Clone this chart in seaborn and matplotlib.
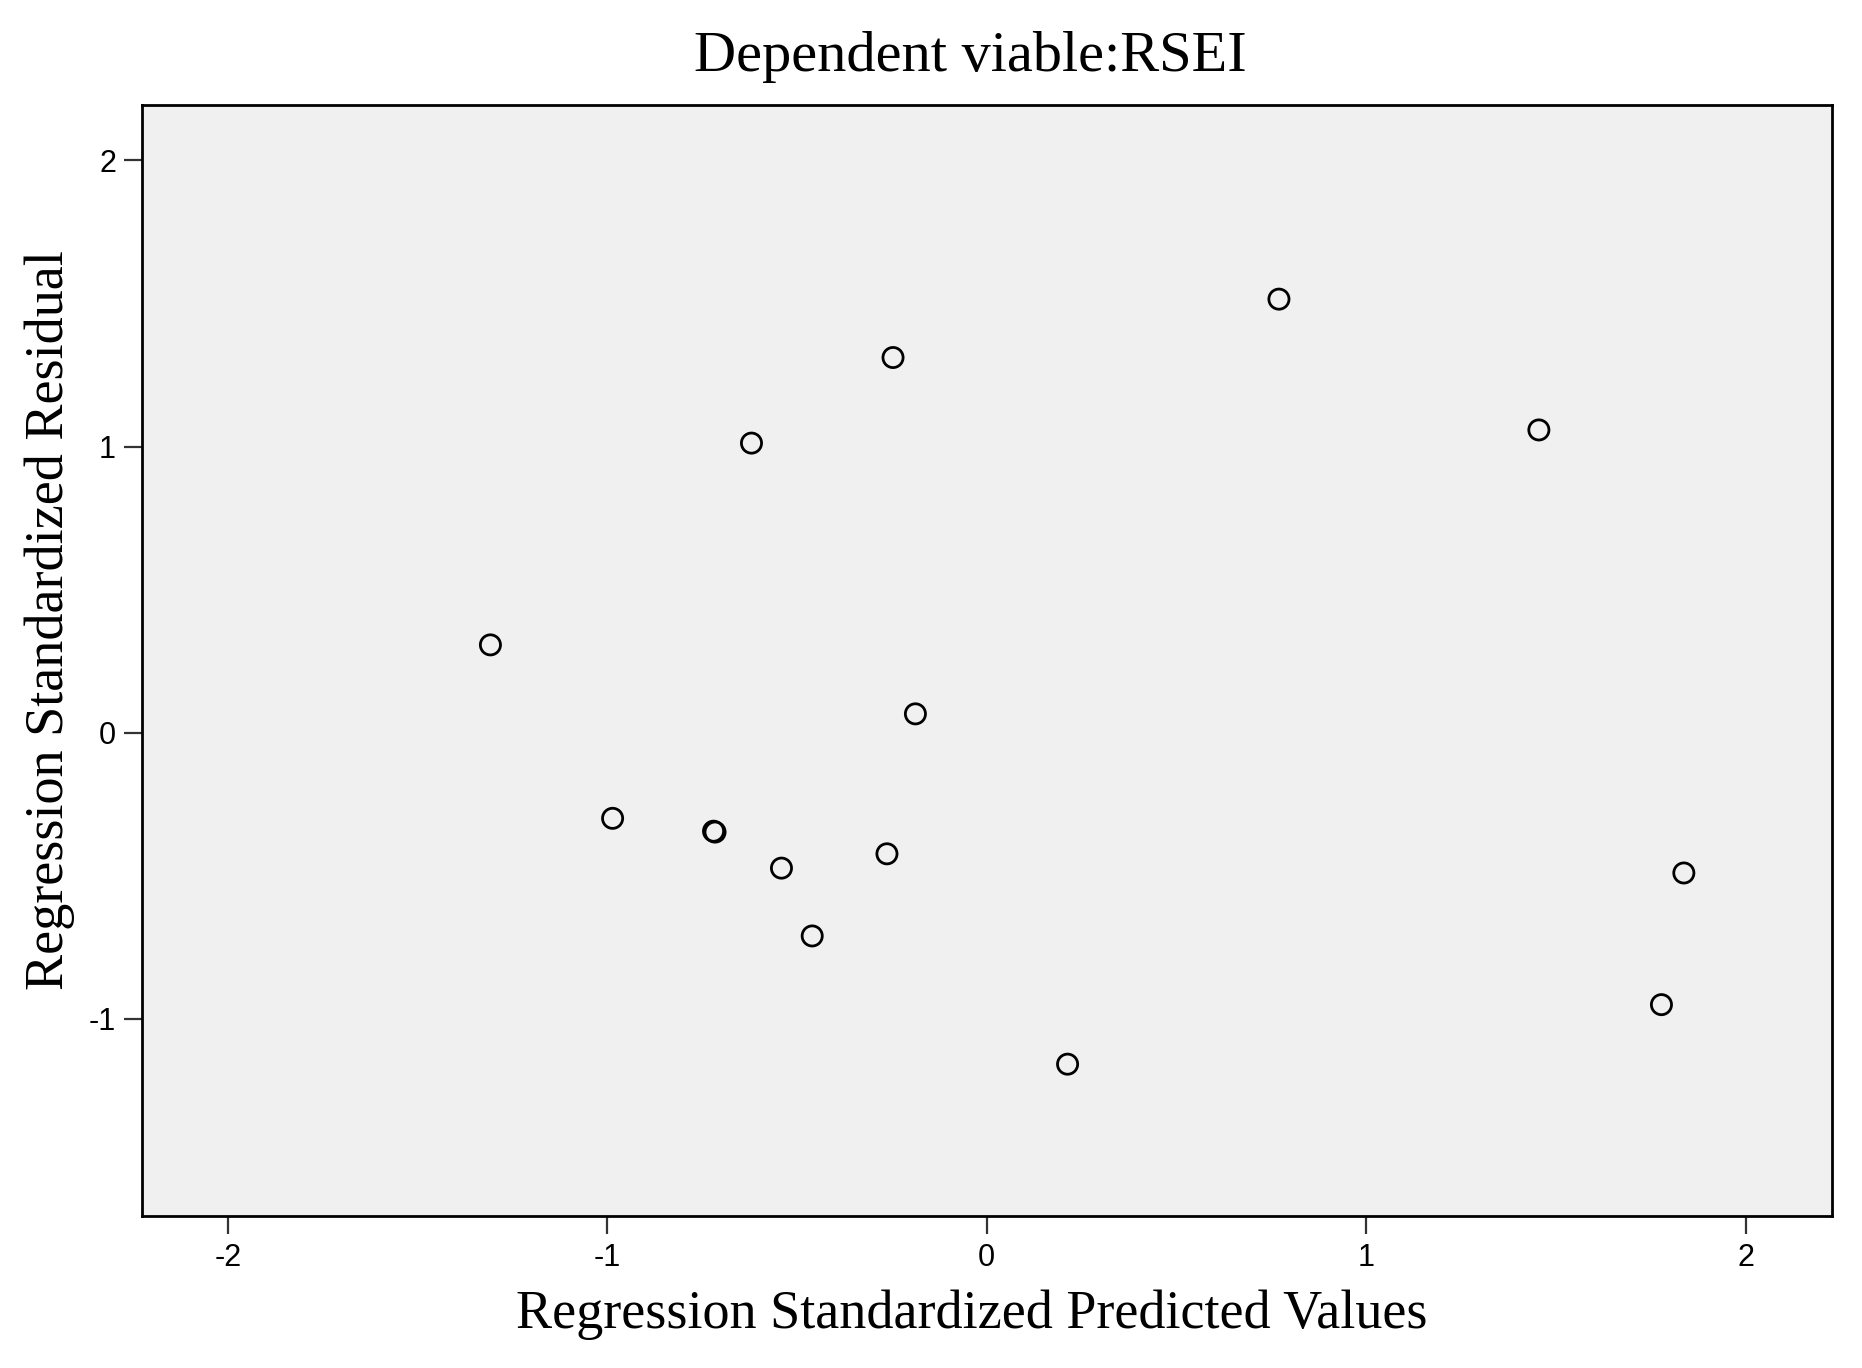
import matplotlib
matplotlib.use("Agg")
import matplotlib.pyplot as plt
import seaborn as sns
import pandas as pd

# Data
predicted = [-1.308, -0.986, -0.720, -0.716, -0.620, -0.541, -0.460, -0.263,
             -0.247, -0.188, 0.213, 0.770, 1.455, 1.778, 1.837]
residual = [0.307, -0.299, -0.344, -0.347, 1.012, -0.473, -0.710, -0.423,
            1.311, 0.066, -1.158, 1.515, 1.058, -0.950, -0.490]
x_ticks = [-2, -1, 0, 1, 2]
y_ticks = [-1, 0, 1, 2]

title_text = "Dependent viable:RSEI"
x_label = "Regression Standardized Predicted Values"
y_label = "Regression Standardized Residual"

df = pd.DataFrame({"pred": predicted, "resid": residual})

sns.set_style("white")
plt.rcParams["text.color"] = "black"
plt.rcParams["axes.labelcolor"] = "black"
plt.rcParams["xtick.color"] = "black"
plt.rcParams["ytick.color"] = "black"

fig = plt.figure(figsize=(18.62, 13.68), dpi=100)
ax = fig.add_axes([0.0765, 0.111, 0.9075, 0.8126])
ax.set_facecolor("#f0f0f0")

sns.scatterplot(data=df, x="pred", y="resid", ax=ax, marker="o", s=210,
                facecolor="none", edgecolor="black", linewidth=2.0, zorder=3)

ax.set_xlim(-2.225, 2.228)
ax.set_ylim(-1.689, 2.195)
ax.set_xticks(x_ticks)
ax.set_yticks(y_ticks)
ax.set_xticklabels([str(t) for t in x_ticks], family="Liberation Sans", fontsize=22,
                   color="black")
ax.set_yticklabels([str(t) for t in y_ticks], family="Liberation Sans", fontsize=22,
                   color="black")
ax.tick_params(axis="both", direction="out", length=13, width=1.6, color="#333333",
               pad=6, bottom=True, left=True)

for sp in ax.spines.values():
    sp.set_visible(True)
    sp.set_color("black")
    sp.set_linewidth(2.0)

serif = ["Liberation Serif", "DejaVu Serif"]
ax.set_title(title_text, family=serif, fontsize=42, pad=24, x=0.49, color="black")
ax.set_xlabel(x_label, family=serif, fontsize=39, color="black")
ax.set_ylabel(y_label, family=serif, fontsize=39, color="black")
ax.xaxis.set_label_coords(0.491, -0.066)
ax.yaxis.set_label_coords(-0.040, 0.536)

fig.savefig("out.png", dpi=100)
